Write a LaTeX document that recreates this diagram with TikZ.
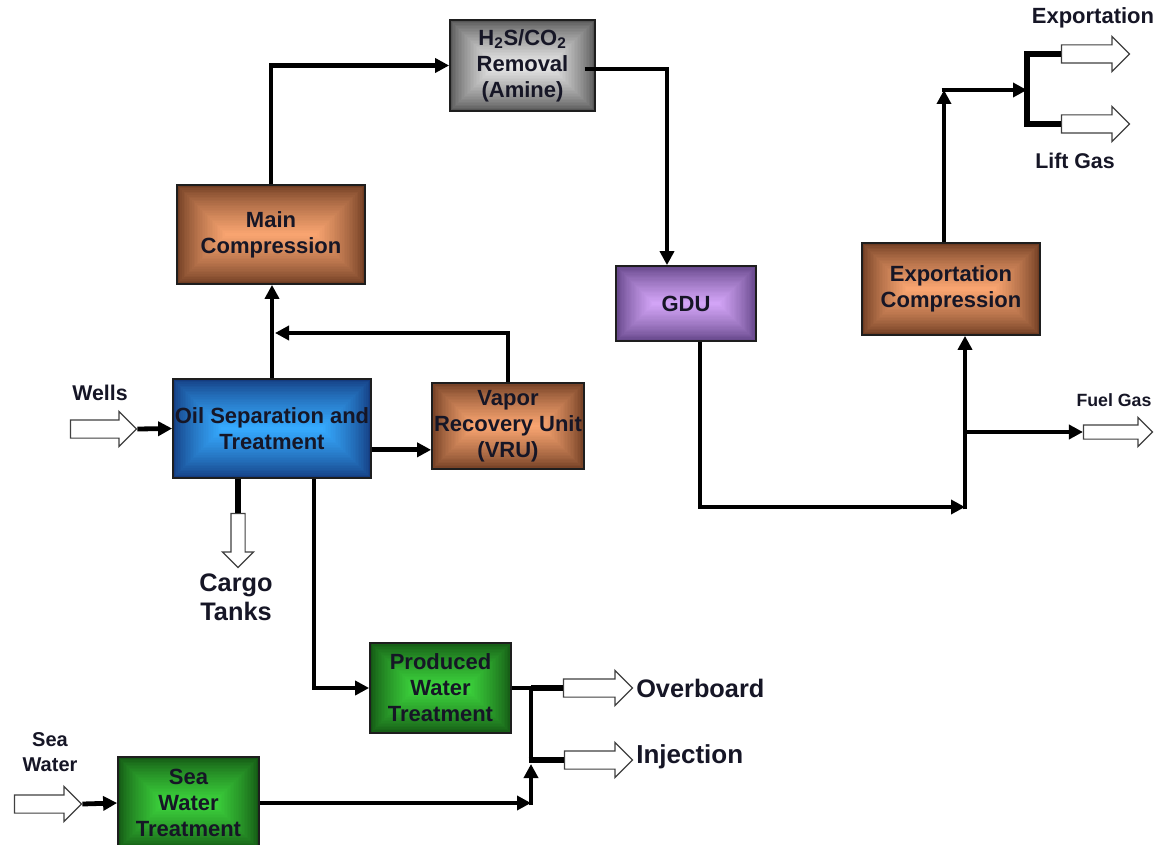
\documentclass[tikz,border=0pt]{standalone}
\usepackage{fontspec}
\setmainfont{Liberation Sans}
\usetikzlibrary{arrows.meta,shapes.arrows,calc}

% palette
\definecolor{ink}{RGB}{22,22,38}
\definecolor{edge}{RGB}{30,30,30}
\definecolor{brD}{RGB}{110,60,34}
\definecolor{brL}{RGB}{248,164,112}
\definecolor{gyD}{RGB}{86,86,86}
\definecolor{gyL}{RGB}{232,232,232}
\definecolor{puD}{RGB}{96,66,132}
\definecolor{puL}{RGB}{210,164,246}
\definecolor{blD}{RGB}{20,60,128}
\definecolor{blL}{RGB}{54,170,254}
\definecolor{grD}{RGB}{20,86,20}
\definecolor{grL}{RGB}{60,212,60}

% rectangular "bevel" gradient: concentric frames from the dark rim to the light centre line
\newcommand\bevelfill[2]{%
  \foreach \i in {0,...,29}{%
    \pgfmathsetmacro\bvmix{100*(\i/29)^0.75}%
    \fill[#2!\bvmix!#1]
      let \p1=(path picture bounding box.south west), \p2=(path picture bounding box.north east),
          \n1={(\y2-\y1)/60} in
      ({\x1+\i*\n1*1pt},{\y1+\i*\n1*1pt}) rectangle ({\x2-\i*\n1*1pt},{\y2-\i*\n1*1pt+0.01pt});
  }%
}

\tikzset{
  unit/.style 2 args={rectangle, draw=edge, line width=1.3pt, inner sep=0pt, align=center,
    text=ink, font=\fontsize{16.5}{19.5}\selectfont\bfseries, path picture={\bevelfill{#1}{#2}}},
  flow/.style={line width=3.6pt, -{Triangle[length=10.5pt,width=10.5pt]}},
  pipe/.style={line width=3.6pt},
  stub/.style={line width=4.8pt},
  port/.style={single arrow, draw=black!75, line width=0.9pt, fill=white, inner sep=0pt,
    text height=12.75pt, text depth=0pt, single arrow head extend=6.4pt, single arrow tip angle=90},
  tag/.style={text=ink, align=center, inner sep=0pt}
}

\begin{document}
\begin{tikzpicture}[x=0.75pt,y=-0.75pt]
\clip (0,0) rectangle (1161,845);
\fill[white] (0,0) rectangle (1161,845);

% process units
\node[unit={brD}{brL}, minimum width=141pt, minimum height=74.25pt] (mc) at (271,234.5) {Main\\Compression};
\node[unit={gyD}{gyL}, minimum width=108.75pt, minimum height=68.25pt] (h2s) at (522.5,65.5) {H\textsubscript{2}S/CO\textsubscript{2}\\Removal\\(Amine)};
\node[unit={puD}{puL}, minimum width=105pt, minimum height=56.25pt] (gdu) at (686,303.5) {GDU};
\node[unit={brD}{brL}, minimum width=133.5pt, minimum height=69pt] (exc) at (951,289) {Exportation\\Compression};
\node[unit={blD}{blL}, minimum width=148.5pt, minimum height=74.25pt] (oil) at (272,428.5) {Oil Separation and\\Treatment};
\node[unit={brD}{brL}, minimum width=114pt, minimum height=64.5pt] (vru) at (508,426) {Vapor\\Recovery Unit\\(VRU)};
\node[unit={grD}{grL}, minimum width=105.75pt, minimum height=67.5pt] (pwt) at (440.5,688) {Produced\\Water\\Treatment};
\node[unit={grD}{grL}, minimum width=105.75pt, minimum height=69pt] (swt) at (188.5,803) {Sea\\Water\\Treatment};

% hollow stream arrows (battery limits)
\node[port, minimum height=49.5pt] (wells) at (99,429) {};
\node[port, rotate=-90, minimum height=40.5pt, text height=9.75pt] (cargo) at (238,537) {};
\node[port, minimum height=51.75pt] (ovb) at (593.5,688) {};
\node[port, minimum height=51pt] (inj) at (594,760) {};
\node[port, minimum height=50.25pt] (sea) at (43.5,804) {};
\node[port, minimum height=51pt] (exp) at (1091,54) {};
\node[port, minimum height=51pt] (lift) at (1091,124) {};
\node[port, minimum height=51.75pt, text height=9.75pt, single arrow head extend=5.6pt] (fuel) at (1114.5,432) {};

% stream labels
\node[tag, font=\fontsize{16.5}{19}\selectfont\bfseries] (lexp) at (1093,18) {Exportation};
\node[tag, font=\fontsize{16}{19}\selectfont\bfseries] (llift) at (1075,161) {Lift Gas};
\node[tag, font=\fontsize{13.3}{16}\selectfont\bfseries] (lfuel) at (1114,400) {Fuel Gas};
\node[tag, font=\fontsize{16}{19}\selectfont\bfseries] (lwells) at (100,393) {Wells};
\node[tag, font=\fontsize{19}{22}\selectfont\bfseries] (lcargo) at (236,597) {Cargo\\Tanks};
\node[tag, anchor=west, font=\fontsize{19}{22}\selectfont\bfseries] (lovb) at (636,688) {Overboard};
\node[tag, anchor=west, font=\fontsize{19.5}{22}\selectfont\bfseries] (linj) at (636,757) {Injection};
\node[tag, font=\fontsize{15}{18.75}\selectfont\bfseries] (lsea) at (50,752) {Sea\\Water};

% junction points
\coordinate (jvru) at (275,333);
\coordinate (jpw) at (531,688);
\coordinate (jsw) at (531,803);
\coordinate (jup) at (531,764);
\coordinate (jgd) at (965,507);
\coordinate (jfu) at (965,432);
\coordinate (jex) at (944,90);
\coordinate (jsp) at (1027,90);

% gas train
\draw[flow] (oil.north) -- (oil.north |- mc.south);
\draw[flow] (vru.north) |- (jvru);
\draw[flow] (mc.north) |- (h2s.west);
\draw[flow] ([xshift=-8.25pt,yshift=-2.6pt]h2s.east) -| ([xshift=-14.25pt]gdu.north);
\draw[flow] ([xshift=10.5pt]gdu.south) |- (jgd);
\draw[flow] ([yshift=-1.8pt]jgd) -- (jgd |- exc.south);
\draw[flow] (jfu) -- (fuel.tail);
\draw[flow] ([xshift=-5.25pt]exc.north) -- (jex);
\draw[flow] ([xshift=-1.8pt]jex) -- (jsp);
\draw[stub] (exp.tail) -| (jsp |- lift.tail) -- (lift.tail);

% liquids
\draw[flow] (wells.tip) -- (oil.west);
\draw[flow] ([yshift=-16pt]oil.east) -- ([yshift=-16pt]oil.east -| vru.west);
\draw[stub] (oil.south -| cargo.tail) -- (cargo.tail);
\draw[flow] ([xshift=31.5pt]oil.south) |- (pwt.west);
\draw[pipe] (pwt.east) -- (jpw);
\draw[stub] (jpw) -- (ovb.tail);
\draw[pipe] (jpw) |- (inj.tail);
\draw[stub] ([xshift=-1.8pt]jpw |- inj.tail) -- (inj.tail);
\draw[flow] (sea.tip) -- (swt.west);
\draw[flow] (swt.east) -- (jsw);
\draw[flow] ([yshift=-1.8pt]jsw) -- (jup);
\end{tikzpicture}
\end{document}
